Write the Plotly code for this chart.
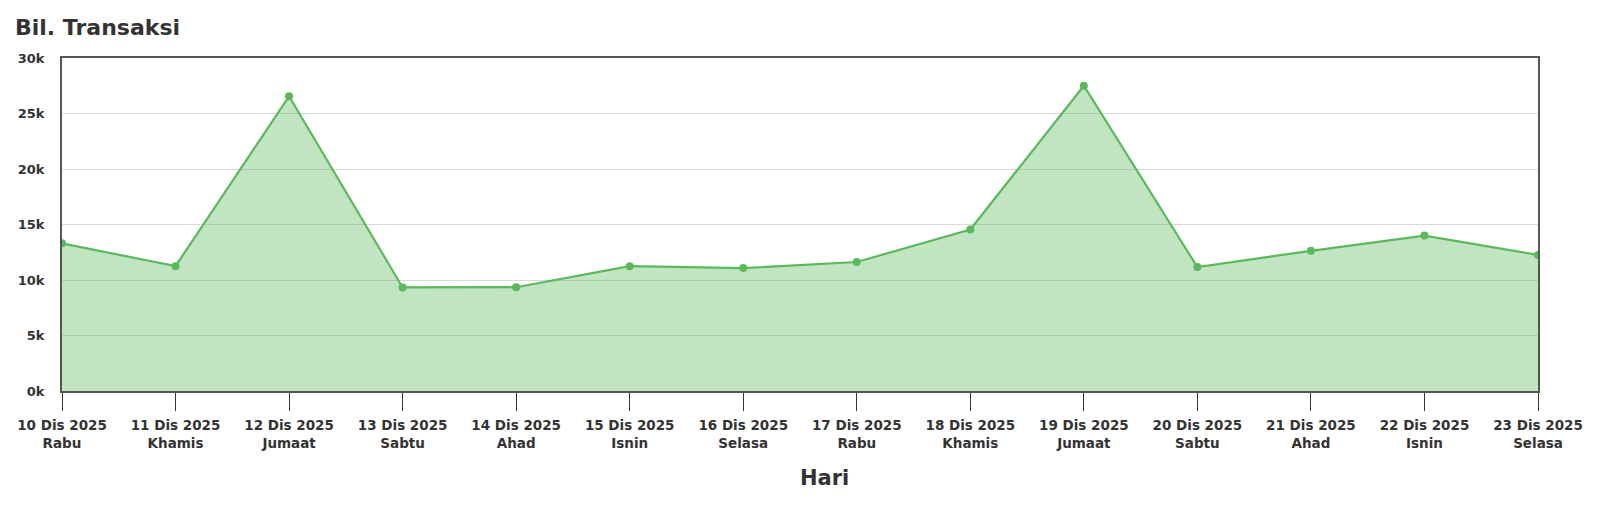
import plotly.graph_objects as go

dates = ["10 Dis 2025", "11 Dis 2025", "12 Dis 2025", "13 Dis 2025", "14 Dis 2025",
         "15 Dis 2025", "16 Dis 2025", "17 Dis 2025", "18 Dis 2025", "19 Dis 2025",
         "20 Dis 2025", "21 Dis 2025", "22 Dis 2025", "23 Dis 2025"]
days = ["Rabu", "Khamis", "Jumaat", "Sabtu", "Ahad", "Isnin", "Selasa",
        "Rabu", "Khamis", "Jumaat", "Sabtu", "Ahad", "Isnin", "Selasa"]
transactions = [13300, 11250, 26550, 9330, 9350, 11250, 11070, 11620, 14550,
                27500, 11160, 12630, 14000, 12260]
y_ticks = [0, 5000, 10000, 15000, 20000, 25000, 30000]
y_tick_labels = ["0k", "5k", "10k", "15k", "20k", "25k", "30k"]

categories = [f"{d}<br>{w}" for d, w in zip(dates, days)]

FONT = "DejaVu Sans"
TXT = "#333333"
OFF = 8  # page body margin

W, H = 1600 - OFF, 523 - OFF
L, T = 62 - OFF, 58 - OFF
R, B = 62, 132
PW, PH = W - L - R, H - T - B

fig = go.Figure()
fig.add_trace(go.Scatter(
    x=categories, y=transactions,
    mode="lines+markers",
    fill="tozeroy",
    fillcolor="rgba(92,184,92,0.38)",
    line=dict(color="#5cb85c", width=2.2),
    marker=dict(color="#5cb85c", size=8),
    hoverinfo="x+y",
))

fig.update_layout(
    width=W, height=H,
    margin=dict(l=L, r=R, t=T, b=B),
    paper_bgcolor="white", plot_bgcolor="white",
    showlegend=False,
    font=dict(family=FONT, color=TXT),
    title=dict(text="<b>Bil. Transaksi</b>", x=(15 - OFF) / W, xanchor="left",
               y=1 - (27 - OFF) / H, yanchor="middle",
               font=dict(family=FONT, size=22, color=TXT)),
    xaxis=dict(
        type="category",
        range=[0, len(categories) - 1],
        tickmode="array", tickvals=categories,
        ticktext=[f"<b>{d}</b><br><b>{w}</b>" for d, w in zip(dates, days)],
        tickfont=dict(family=FONT, size=13.5, color=TXT),
        ticks="outside", ticklen=18, tickwidth=1, tickcolor=TXT,
        ticklabelstandoff=3,
        showgrid=False, automargin=False,
        showline=True, linecolor="#555555", linewidth=2, mirror=True,
        zeroline=False,
    ),
    yaxis=dict(
        range=[0, 30000],
        tickmode="array", tickvals=y_ticks,
        ticktext=[f"<b>{t}</b>" for t in y_tick_labels],
        tickfont=dict(family=FONT, size=13, color=TXT),
        ticks="", ticklabelstandoff=13, automargin=False,
        showgrid=True, gridcolor="#d9d9d9", gridwidth=1,
        showline=True, linecolor="#555555", linewidth=2, mirror=True,
        zeroline=False,
    ),
)

fig.add_annotation(
    text="<b>Hari</b>", xref="paper", yref="paper",
    x=(825 - 62) / PW, y=-(479 - 392) / PH,
    xanchor="center", yanchor="middle", showarrow=False,
    font=dict(family=FONT, size=21, color=TXT),
)

fig.write_html("out.html")
